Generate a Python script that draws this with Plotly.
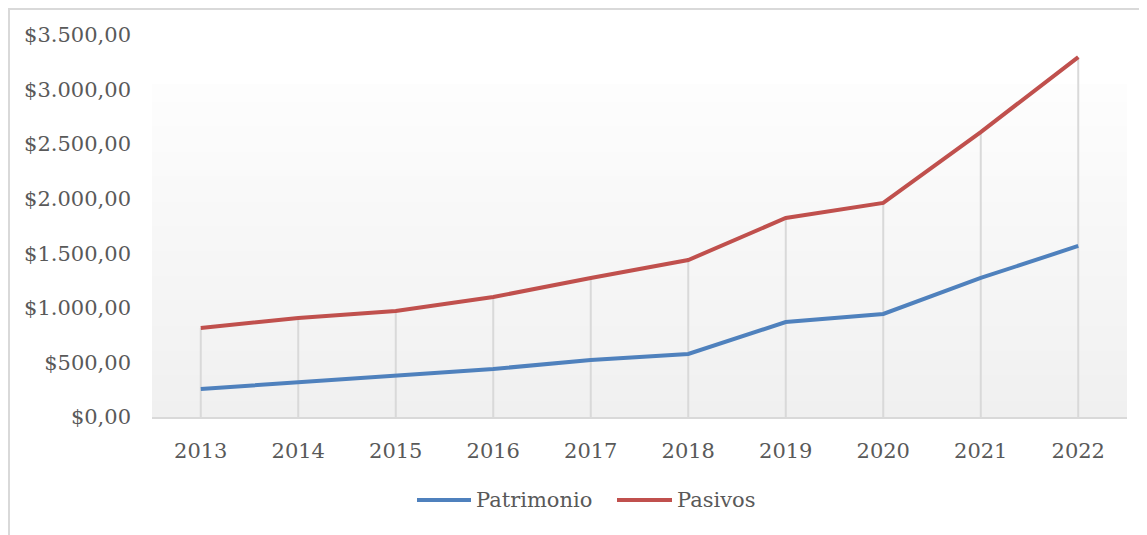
import plotly.graph_objects as go

years = ["2013", "2014", "2015", "2016", "2017", "2018", "2019", "2020", "2021", "2022"]
patrimonio = [257, 321, 376, 440, 522, 577, 870, 944, 1274, 1567]
pasivos = [815, 907, 971, 1099, 1274, 1438, 1823, 1961, 2611, 3298]
y_ticks = [0, 500, 1000, 1500, 2000, 2500, 3000, 3500]
series_names = ["Patrimonio", "Pasivos"]
series_colors = ["#4f81bd", "#c0504d"]

FONT = "DejaVu Serif"
TXT = "#595959"

OFF = 8  # page body margin
W, H = 1147, 535
L, R, T, B = 152 - OFF, 20 + OFF, 35 - OFF, 118 + OFF
pw, ph = W - L - R, H - T - B


def px2x(p):
    return (p - OFF - L) / pw


def py2y(p):
    return (H - B - (p - OFF)) / ph


fig = go.Figure()

# drop lines from the Pasivos series down to the axis
dx, dy = [], []
for yr, v in zip(years, pasivos):
    dx += [yr, yr, None]
    dy += [0, v, None]
fig.add_trace(go.Scatter(x=dx, y=dy, mode="lines", line=dict(color="#d9d9d9", width=2),
                         showlegend=False, hoverinfo="skip"))

for name, vals, col in zip(series_names, [patrimonio, pasivos], series_colors):
    fig.add_trace(go.Scatter(x=years, y=vals, mode="lines", name=name,
                             line=dict(color=col, width=4), showlegend=False))

shapes = []
annotations = []
# gradient background bands
top_px = 85
n = 40
ytop = py2y(top_px)
c0, c1 = 240, 253
for i in range(n):
    f = i / (n - 1)
    c = round(c0 + (c1 - c0) * f)
    shapes.append(dict(type="rect", xref="paper", yref="paper", x0=0, x1=1,
                       y0=ytop * i / n, y1=ytop * (i + 1) / n + 0.002,
                       fillcolor=f"rgb({c},{c},{c})", line=dict(width=0), layer="below"))

# outer frame (left and top edges visible)
shapes.append(dict(type="path", xref="paper", yref="paper",
                   path=f"M {px2x(9)} {py2y(560)} L {px2x(9)} {py2y(9)} L {px2x(1170)} {py2y(9)}",
                   line=dict(color="#d9d9d9", width=2)))

# legend (drawn manually to match long legend keys)
leg_y = py2y(500)
leg_items = [(417, 471), (617, 672)]
for (x0, x1), name, col in zip(leg_items, series_names, series_colors):
    shapes.append(dict(type="line", xref="paper", yref="paper", x0=px2x(x0), x1=px2x(x1),
                       y0=leg_y, y1=leg_y, line=dict(color=col, width=4)))
    annotations.append(dict(xref="paper", yref="paper", x=px2x(x1 + 3), y=leg_y,
                            xanchor="left", yanchor="middle", text=name, showarrow=False,
                            font=dict(family=FONT, size=21, color=TXT)))

fig.update_layout(
    width=W, height=H,
    margin=dict(l=L, r=R, t=T, b=B),
    paper_bgcolor="white", plot_bgcolor="white",
    separators=",.",
    font=dict(family=FONT, size=21, color=TXT),
    shapes=shapes,
    annotations=annotations,
    showlegend=False,
    xaxis=dict(type="category", range=[-0.5, 9.5], showgrid=False, zeroline=False,
               showline=True, linecolor="#d9d9d9", linewidth=2, ticks="",
               ticklabelstandoff=14, tickfont=dict(family=FONT, size=21, color=TXT)),
    yaxis=dict(range=[0, 3500], tickvals=y_ticks, tickformat="$,.2f", showgrid=False,
               zeroline=False, showline=False, ticks="", ticklabelstandoff=20,
               tickfont=dict(family=FONT, size=21, color=TXT)),
)

fig.write_html("out.html")
